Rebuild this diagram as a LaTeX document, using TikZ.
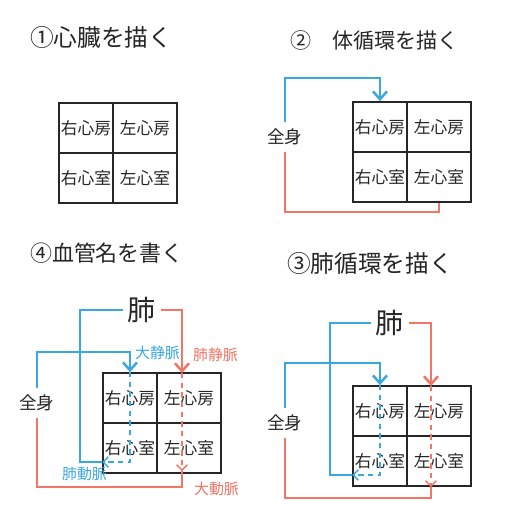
\documentclass[tikz,border=0pt]{standalone}
\usepackage{fontspec}
\setmainfont{Noto Sans CJK JP}
\usetikzlibrary{arrows.meta}
\definecolor{Ink}{HTML}{262626}
\definecolor{Vein}{HTML}{3AA8DE}
\definecolor{Artery}{HTML}{F27565}

\begin{document}
\begin{tikzpicture}[x=0.02cm,y=-0.02cm,every node/.style={text=Ink,inner sep=1pt},title/.style={anchor=west,font=\fontsize{13.5}{15}\selectfont},cell/.style={draw=Ink,line width=1pt,minimum height=1cm,inner sep=0pt,font=\fontsize{9.5}{11}\selectfont},narrow/.style={cell,minimum width=1.08cm},wide/.style={cell,minimum width=1.28cm},organ/.style={font=\fontsize{10}{12}\selectfont,outer sep=3pt},lung/.style={font=\fontsize{16}{18}\selectfont,outer sep=2pt},vein/.style={draw=Vein,line width=1.4pt},artery/.style={draw=Artery,line width=1.4pt},tip/.style={-{Straight Barb[length=4.5pt,width=8pt]}},flow/.style={line width=0.8pt,dash pattern=on 3pt off 2.5pt,-{Straight Barb[length=3pt,width=6pt]}},vessel/.style={anchor=west,font=\fontsize{8.5}{10}\selectfont}]
\fill[white] (0,0) rectangle (512,512);
% titles
\node[title] (t1) at (28,37) {①心臓を描く};
\node[title,font=\fontsize{12}{14}\selectfont] (t2) at (288,40) {②\quad 体循環を描く};
\node[title] (t3) at (285,263) {③肺循環を描く};
\node[title,font=\fontsize{12.5}{14}\selectfont] (t4) at (28,253) {④血管名を書く};
% the four hearts
\foreach \p/\x/\y in {a/59/103,b/353/102,c/353/386,d/103/373}{
\node[narrow] (\p-ra) at (\x+27,\y+25) {右心房};
\node[wide] (\p-la) at (\x+86,\y+25) {左心房};
\node[narrow] (\p-rv) at (\x+27,\y+75) {右心室};
\node[wide] (\p-lv) at (\x+86,\y+75) {左心室};
}
% 2: systemic loop
\node[organ] (b-body) at (285,137) {全身};
\coordinate (b-top) at (285,78);
\coordinate (b-bot) at (285,212);
\draw[vein,tip] (b-body.north) -- (b-top) -| (b-ra.north);
\draw[artery] (b-body.south) -- (b-bot) -| (b-lv.south);
% 3: pulmonary loop
\node[lung] (c-lung) at (390,323) {肺};
\node[organ] (c-body) at (285,423) {全身};
\coordinate (c-vc) at (285,363);
\coordinate (c-pa) at (330,475);
\coordinate (c-in) at (431,386);
\coordinate (c-out) at (431,487);
\coordinate (c-ao) at (285,498);
\draw[vein,tip] (c-body.north) -- (c-vc) -| (c-ra.north);
\draw[vein,flow] (c-ra.north) -- (c-ra.north |- c-pa) -- (c-rv.west |- c-pa);
\draw[vein] (c-lung.west) -| (c-pa) -- (c-rv.west |- c-pa);
\draw[artery,tip] (c-lung.east) -| (c-in);
\draw[artery,flow] (c-in) -- (c-out);
\draw[artery] (c-out) |- (c-ao) -- (c-body.south);
% 4: vessel names
\node[lung] (d-lung) at (142,310) {肺};
\node[organ] (d-body) at (37,403) {全身};
\coordinate (d-vc) at (37,352);
\coordinate (d-pa) at (80,462);
\coordinate (d-in) at (182,373);
\coordinate (d-out) at (182,471);
\coordinate (d-ao) at (37,487);
\draw[vein,tip] (d-body.north) -- (d-vc) -| (d-ra.north);
\draw[vein,flow] (d-ra.north) -- (d-ra.north |- d-pa) -- (d-rv.west |- d-pa);
\draw[vein] (d-lung.west) -| (d-pa) -- (d-rv.west |- d-pa);
\draw[artery,tip] (d-lung.east) -| (d-in);
\draw[artery,flow] (d-in) -- (d-out);
\draw[artery] (d-out) |- (d-ao) -- (d-body.south);
\node[vessel,text=Vein] (d-svc) at (133,353) {大静脈};
\node[vessel,text=Artery] (d-spv) at (191,355) {肺静脈};
\node[vessel,text=Vein] (d-spa) at (60,474) {肺動脈};
\node[vessel,text=Artery] (d-sao) at (192,489) {大動脈};
\end{tikzpicture}
\end{document}
